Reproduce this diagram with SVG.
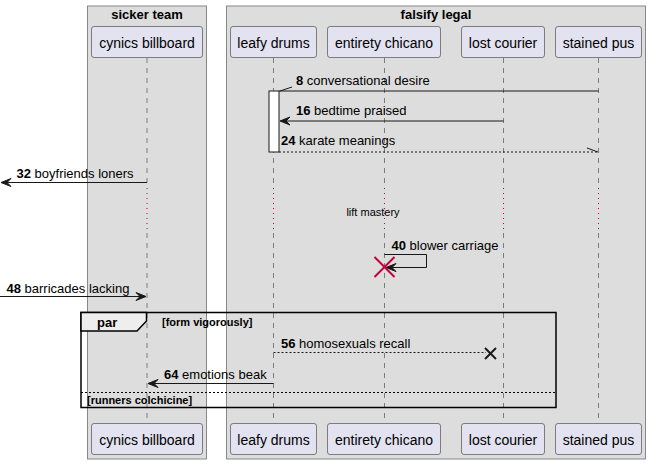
<svg xmlns="http://www.w3.org/2000/svg" width="651" height="465" viewBox="0 0 651 465">
<defs>
<style>
text{font-family:"Liberation Sans",Arial,sans-serif;fill:#000}
.grp{fill:#DDDDDD;stroke:#888888;stroke-width:1}
.gt{font-size:13px;font-weight:bold;text-anchor:middle}
.pbox{fill:#E2E2F0;stroke:#181818;stroke-width:0.5}
.pl{font-size:14px;text-anchor:middle}
.life{stroke:#181818;stroke-width:0.5;stroke-dasharray:5,5;fill:none}
.delay{stroke:#C3003C;stroke-width:1;stroke-dasharray:1,4;fill:none}
.msg{stroke:#181818;stroke-width:1;fill:none}
.dash{stroke:#181818;stroke-width:1;stroke-dasharray:2,2;fill:none}
.ml{font-size:13px}
.ml tspan.n{font-weight:bold}
.head{fill:#181818;stroke:#181818;stroke-width:1}
.frame{fill:none;stroke:#000;stroke-width:1.5}
.tab{fill:#EEEEEE;stroke:#000;stroke-width:1.5}
.fl{font-size:11px;font-weight:bold}
</style>
</defs>
<g id="group-sicker-team">
<rect class="grp" x="87.5" y="6" width="119" height="453"/>
<text class="gt" x="147" y="19">sicker team</text>
</g>
<g id="group-falsify-legal">
<rect class="grp" x="226.5" y="6" width="419" height="453"/>
<text class="gt" x="436" y="19">falsify legal</text>
</g>
<g id="lifelines">
<line class="life" x1="147" y1="58" x2="147" y2="188"/>
<line class="delay" x1="147" y1="188" x2="147" y2="233"/>
<line class="life" x1="147" y1="233" x2="147" y2="423"/>
<line class="life" x1="273.5" y1="58" x2="273.5" y2="188"/>
<line class="delay" x1="273.5" y1="188" x2="273.5" y2="233"/>
<line class="life" x1="273.5" y1="233" x2="273.5" y2="423"/>
<line class="life" x1="384.5" y1="58" x2="384.5" y2="188"/>
<line class="delay" x1="384.5" y1="188" x2="384.5" y2="233"/>
<line class="life" x1="384.5" y1="233" x2="384.5" y2="423"/>
<line class="life" x1="503.5" y1="58" x2="503.5" y2="188"/>
<line class="delay" x1="503.5" y1="188" x2="503.5" y2="233"/>
<line class="life" x1="503.5" y1="233" x2="503.5" y2="423"/>
<line class="life" x1="598.5" y1="58" x2="598.5" y2="188"/>
<line class="delay" x1="598.5" y1="188" x2="598.5" y2="233"/>
<line class="life" x1="598.5" y1="233" x2="598.5" y2="423"/>
</g>
<g id="p-cynics-billboard">
<rect class="pbox" x="91.5" y="26.5" width="111" height="31" rx="2.5"/>
<text class="pl" x="147" y="48">cynics billboard</text>
<rect class="pbox" x="91.5" y="423.5" width="111" height="31" rx="2.5"/>
<text class="pl" x="147" y="445">cynics billboard</text>
</g>
<g id="p-leafy-drums">
<rect class="pbox" x="230.5" y="26.5" width="86" height="31" rx="2.5"/>
<text class="pl" x="273.5" y="48">leafy drums</text>
<rect class="pbox" x="230.5" y="423.5" width="86" height="31" rx="2.5"/>
<text class="pl" x="273.5" y="445">leafy drums</text>
</g>
<g id="p-entirety-chicano">
<rect class="pbox" x="327.5" y="26.5" width="113" height="31" rx="2.5"/>
<text class="pl" x="384" y="48">entirety chicano</text>
<rect class="pbox" x="327.5" y="423.5" width="113" height="31" rx="2.5"/>
<text class="pl" x="384" y="445">entirety chicano</text>
</g>
<g id="p-lost-courier">
<rect class="pbox" x="461.5" y="26.5" width="83" height="31" rx="2.5"/>
<text class="pl" x="503" y="48">lost courier</text>
<rect class="pbox" x="461.5" y="423.5" width="83" height="31" rx="2.5"/>
<text class="pl" x="503" y="445">lost courier</text>
</g>
<g id="p-stained-pus">
<rect class="pbox" x="555.5" y="26.5" width="86" height="31" rx="2.5"/>
<text class="pl" x="598.5" y="48">stained pus</text>
<rect class="pbox" x="555.5" y="423.5" width="86" height="31" rx="2.5"/>
<text class="pl" x="598.5" y="445">stained pus</text>
</g>
<g id="activation-leafy-drums">
<rect x="269" y="91" width="10" height="61" fill="#FFFFFF" stroke="#181818" stroke-width="1"/>
</g>
<g id="delay-label">
<text x="373" y="216" font-size="11" text-anchor="middle">lift mastery</text>
</g>
<g id="frame-par">
<rect class="frame" x="81" y="312.5" width="475" height="95"/>
<path class="tab" d="M81,312.5 H146.5 V321 L137,331 H81 Z"/>
<text x="97" y="327" font-size="13" font-weight="bold">par</text>
<text class="fl" x="162" y="326">[form vigorously]</text>
<line x1="81" y1="392.5" x2="556" y2="392.5" stroke="#000" stroke-width="1" stroke-dasharray="2,2"/>
<text class="fl" x="87" y="404">[runners colchicine]</text>
</g>
<g id="connectors">
<g id="m8">
<line class="msg" x1="598.5" y1="91" x2="279" y2="91"/>
<line class="msg" x1="280" y1="91" x2="292" y2="87"/>
<text class="ml" x="296" y="84.5"><tspan class="n">8</tspan> conversational desire</text>
</g>
<g id="m16">
<line class="msg" x1="503.5" y1="121" x2="281" y2="121"/>
<polygon class="head" points="280,121 290,117 286,121 290,125"/>
<text class="ml" x="296" y="115"><tspan class="n">16</tspan> bedtime praised</text>
</g>
<g id="m24">
<line class="dash" x1="279" y1="152" x2="598" y2="152"/>
<line class="msg" x1="598" y1="152" x2="587" y2="148"/>
<text class="ml" x="281" y="145"><tspan class="n">24</tspan> karate meanings</text>
</g>
<g id="m32">
<line class="msg" x1="147" y1="182.5" x2="2" y2="182.5"/>
<polygon class="head" points="1,182.5 11,178.5 7,182.5 11,186.5"/>
<text class="ml" x="16.5" y="177.5"><tspan class="n">32</tspan> boyfriends loners</text>
</g>
<g id="m40">
<polyline class="msg" points="384.5,254.5 426.5,254.5 426.5,267.5 387,267.5"/>
<polygon class="head" points="386,267.5 396,263.5 392,267.5 396,271.5"/>
<text class="ml" x="391.5" y="250"><tspan class="n">40</tspan> blower carriage</text>
<g stroke="#C3003C" stroke-width="2">
<line x1="374.5" y1="257" x2="394.5" y2="277"/>
<line x1="394.5" y1="257" x2="374.5" y2="277"/>
</g>
</g>
<g id="m48">
<line class="msg" x1="0" y1="296.5" x2="145" y2="296.5"/>
<polygon class="head" points="146,296.5 136,292.5 140,296.5 136,300.5"/>
<text class="ml" x="6.5" y="292.5"><tspan class="n">48</tspan> barricades lacking</text>
</g>
<g id="m56">
<line class="dash" x1="273.5" y1="352.5" x2="486" y2="352.5"/>
<g stroke="#181818" stroke-width="2">
<line x1="485" y1="348" x2="496" y2="359"/>
<line x1="496" y1="348" x2="485" y2="359"/>
</g>
<text class="ml" x="281" y="348"><tspan class="n">56</tspan> homosexuals recall</text>
</g>
<g id="m64">
<line class="msg" x1="273.5" y1="383.5" x2="149" y2="383.5"/>
<polygon class="head" points="148,383.5 158,379.5 154,383.5 158,387.5"/>
<text class="ml" x="164" y="378.5"><tspan class="n">64</tspan> emotions beak</text>
</g>
</g>
</svg>
